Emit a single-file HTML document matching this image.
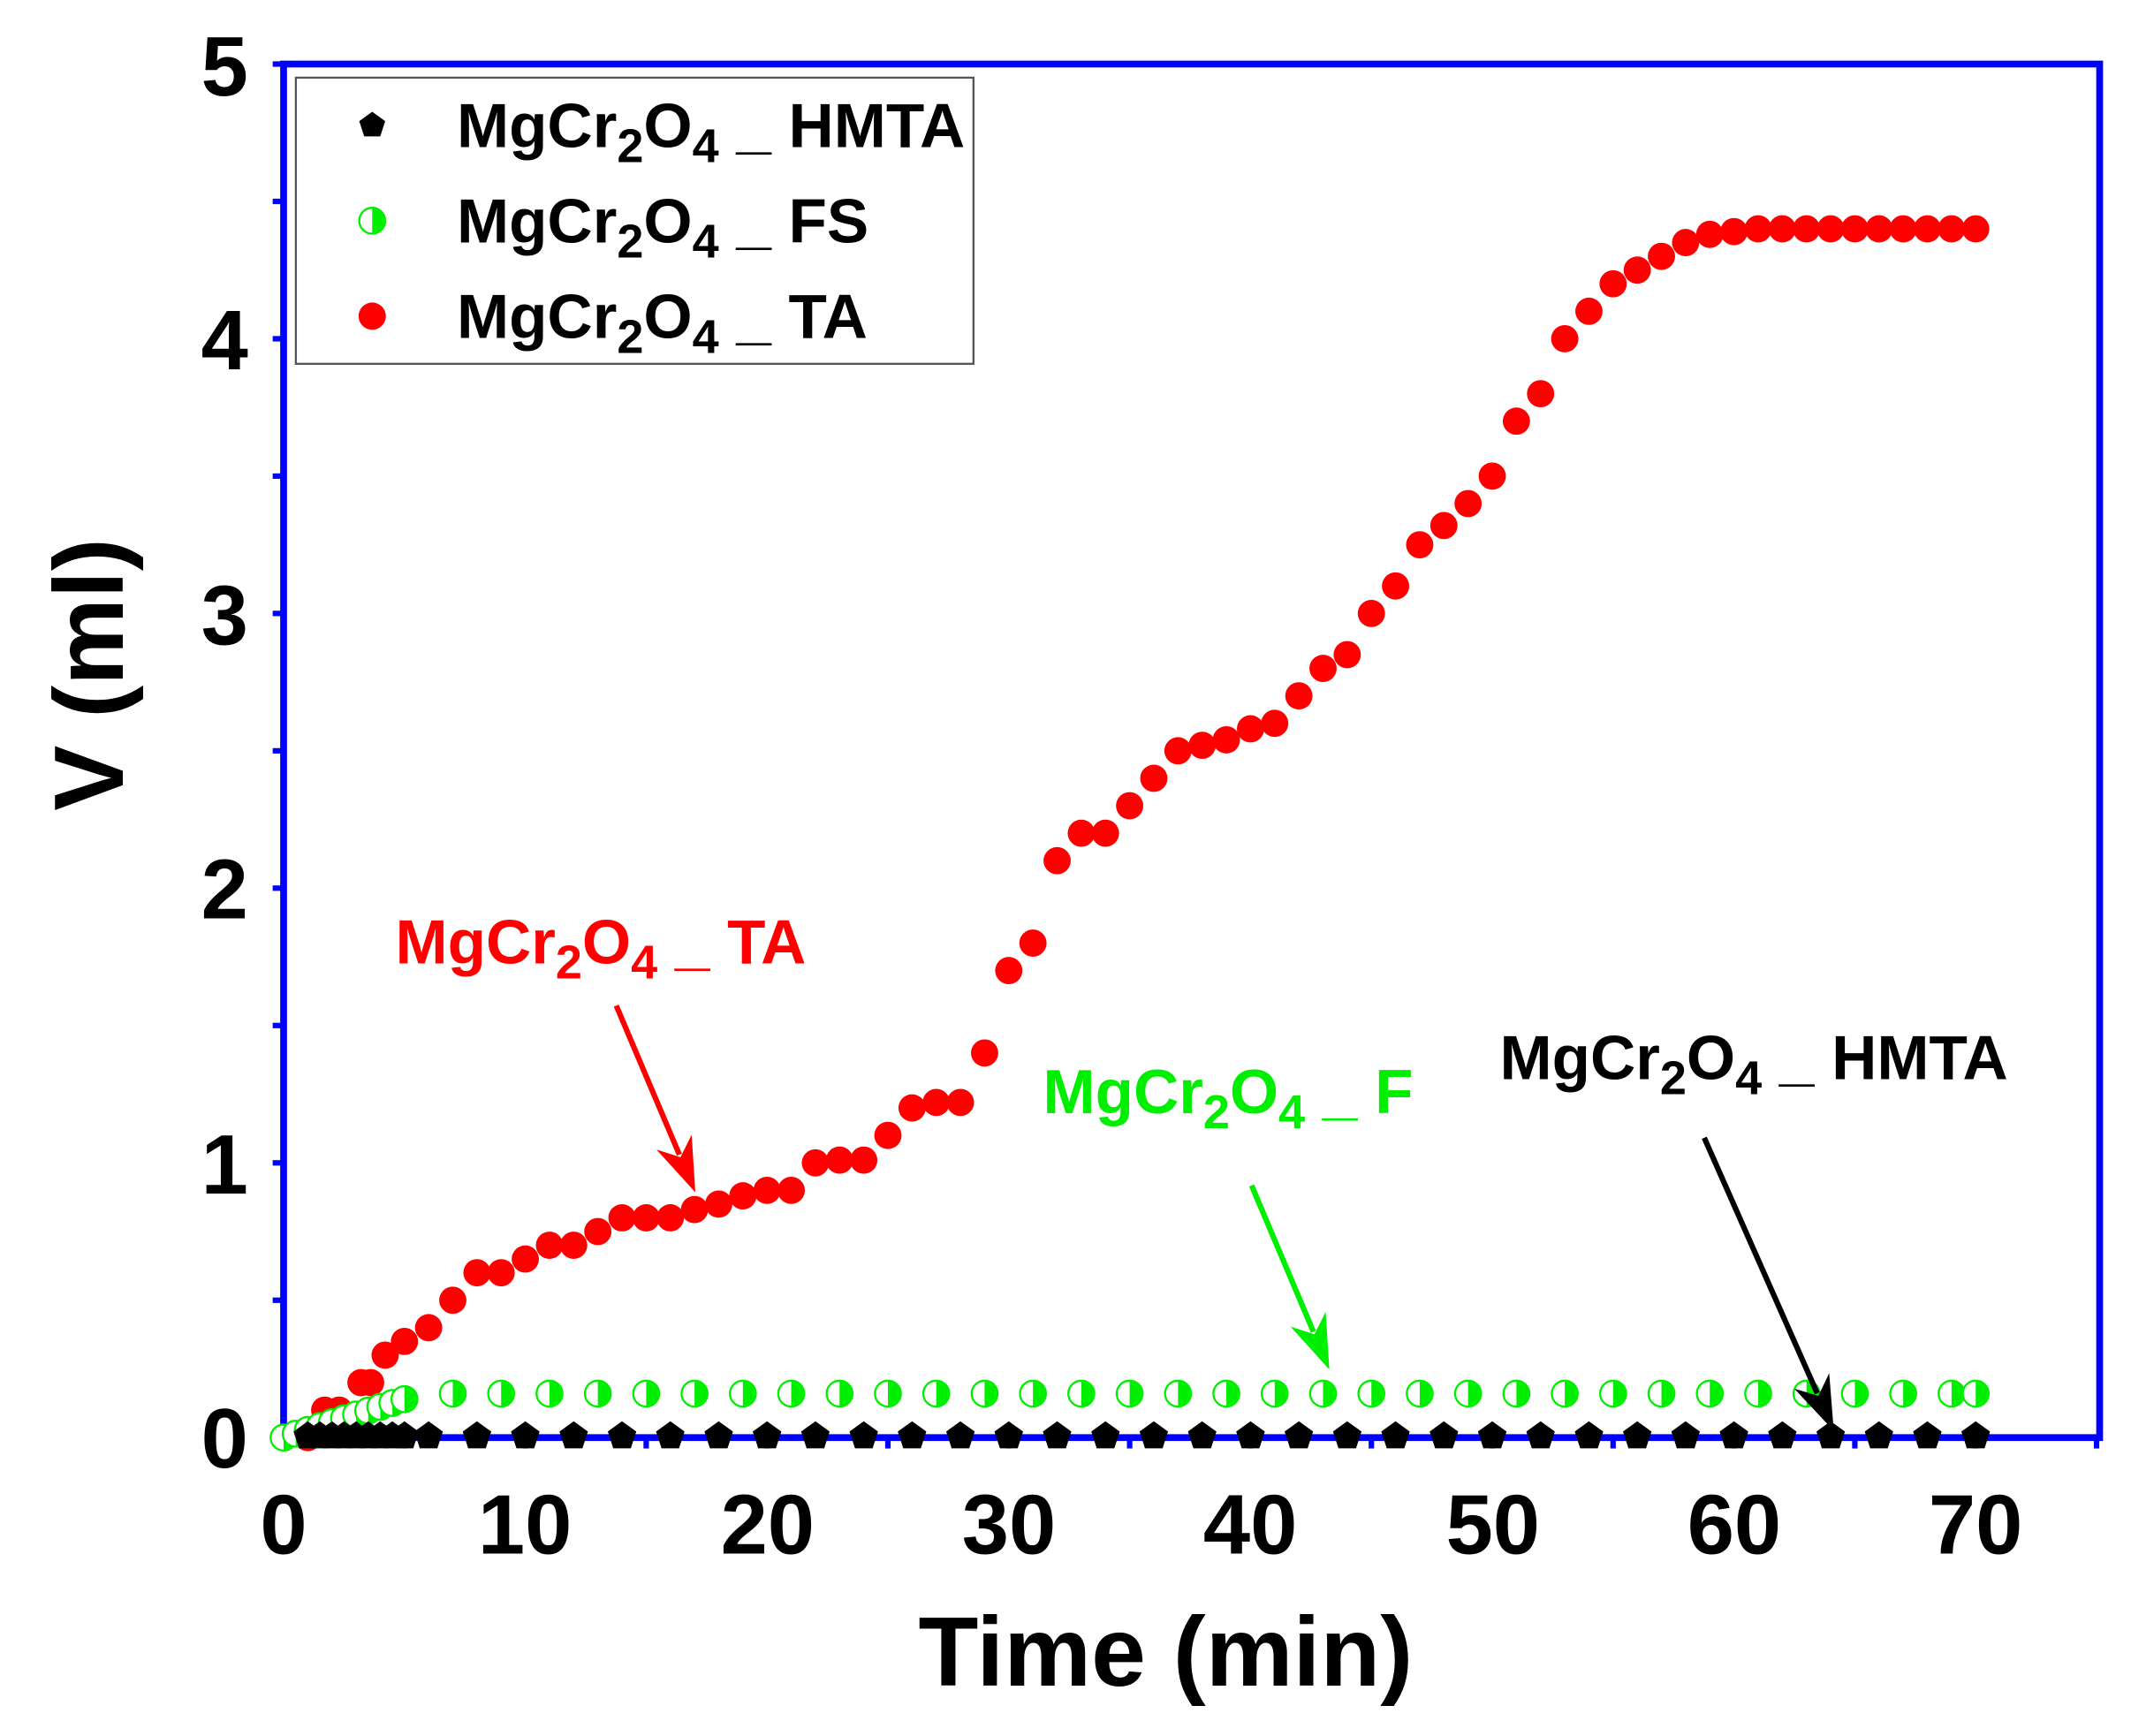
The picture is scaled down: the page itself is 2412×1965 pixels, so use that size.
<!DOCTYPE html>
<html><head><meta charset="utf-8"><style>
html,body{margin:0;padding:0;background:#fff;}
svg{display:block;}
text{font-family:"Liberation Sans",Arial,sans-serif;font-weight:bold;}
</style></head><body>
<svg id="s" width="2412" height="1965" viewBox="0 0 1563 1274" preserveAspectRatio="none" xmlns="http://www.w3.org/2000/svg">
<rect x="208" y="47" width="1332" height="1008" fill="none" stroke="#0000ff" stroke-width="5"/>
<g id="ticks" stroke="#0000ff" stroke-width="4"></g>
<g font-size="62" fill="#000" text-anchor="end">
<text x="182" y="1077">0</text>
<text x="182" y="876">1</text>
<text x="182" y="674">2</text>
<text x="182" y="473">3</text>
<text x="182" y="271">4</text>
<text x="182" y="70">5</text>
</g>
<g font-size="62" fill="#000" text-anchor="middle">
<text x="208" y="1140">0</text><text x="385" y="1140">10</text><text x="563" y="1140">20</text><text x="740" y="1140">30</text>
<text x="917" y="1140">40</text><text x="1095" y="1140">50</text><text x="1272" y="1140">60</text><text x="1449" y="1140">70</text>
</g>
<text x="855" y="1237" font-size="72" text-anchor="middle">Time (min)</text>
<text transform="translate(90,495) rotate(-90)" font-size="72" text-anchor="middle">V (ml)</text>
<g id="data"></g>
<rect x="217" y="57" width="497" height="210" fill="#fff" stroke="#555" stroke-width="1.5"/>
<g font-size="46">
<text x="335" y="108">MgCr<tspan font-size="35" dy="11">2</tspan><tspan dy="-11">O</tspan><tspan font-size="35" dy="11">4</tspan><tspan dy="-11"> _ HMTA</tspan></text>
<text x="335" y="178">MgCr<tspan font-size="35" dy="11">2</tspan><tspan dy="-11">O</tspan><tspan font-size="35" dy="11">4</tspan><tspan dy="-11"> _ FS</tspan></text>
<text x="335" y="248">MgCr<tspan font-size="35" dy="11">2</tspan><tspan dy="-11">O</tspan><tspan font-size="35" dy="11">4</tspan><tspan dy="-11"> _ TA</tspan></text>
</g>
<g id="leg"></g>
<text x="290" y="707" font-size="46" fill="#ff0000">MgCr<tspan font-size="35" dy="11">2</tspan><tspan dy="-11">O</tspan><tspan font-size="35" dy="11">4</tspan><tspan dy="-11"> _ TA</tspan></text>
<text x="765" y="817" font-size="46" fill="#00ee00">MgCr<tspan font-size="35" dy="11">2</tspan><tspan dy="-11">O</tspan><tspan font-size="35" dy="11">4</tspan><tspan dy="-11"> _ F</tspan></text>
<text x="1100" y="792" font-size="46" fill="#000">MgCr<tspan font-size="35" dy="11">2</tspan><tspan dy="-11">O</tspan><tspan font-size="35" dy="11">4</tspan><tspan dy="-11"> _ HMTA</tspan></text>
<g id="arrows"></g>
</svg>
<script>
var NS="http://www.w3.org/2000/svg";
function el(p,n,a){var e=document.createElementNS(NS,n);for(var k in a)e.setAttribute(k,a[k]);p.appendChild(e);return e;}
function X(t){return 208+t*17.73;}
function Y(v){return 1055-v*201.6;}
var tk=document.getElementById('ticks');
for(var i=0;i<=10;i++){var y=1055-i*100.8;el(tk,'line',{x1:200,x2:208,y1:y,y2:y});}
for(var i=0;i<=15;i++){var x=208+i*88.65;el(tk,'line',{x1:x,x2:x,y1:1055,y2:1063});}
var d=document.getElementById('data');
function pent(g,cx,cy,r,fill){var p=[];for(var k=0;k<5;k++){var a=-Math.PI/2+k*2*Math.PI/5;p.push((cx+r*Math.cos(a)).toFixed(1)+','+(cy+r*Math.sin(a)).toFixed(1));}el(g,'polygon',{points:p.join(' '),fill:fill});}
function half(g,cx,cy,r){el(g,'circle',{cx:cx,cy:cy,r:r,fill:'#fff',stroke:'#00ee00','stroke-width':1.5});el(g,'path',{d:'M'+cx+','+(cy-r)+' A'+r+','+r+' 0 0 1 '+cx+','+(cy+r)+' Z',fill:'#00ee00'});}
var ta=[[1,0],[1.7,0.1],[2.3,0.1],[3.2,0.2],[3.6,0.2],[4.2,0.3],[5,0.35],[6,0.4],[7,0.5],[8,0.6],[9,0.6],[10,0.65],[11,0.7],[12,0.7],[13,0.75],[14,0.8],[15,0.8],[16,0.8],[17,0.83],[18,0.85],[19,0.88],[20,0.9],[21,0.9],[22,1.0],[23,1.01],[24,1.01],[25,1.1],[26,1.2],[27,1.22],[28,1.22],[29,1.4],[30,1.7],[31,1.8],[32,2.1],[33,2.2],[34,2.2],[35,2.3],[36,2.4],[37,2.5],[38,2.52],[39,2.54],[40,2.58],[41,2.6],[42,2.7],[43,2.8],[44,2.85],[45,3.0],[46,3.1],[47,3.25],[48,3.32],[49,3.4],[50,3.5],[51,3.7],[52,3.8],[53,4.0],[54,4.1],[55,4.2],[56,4.25],[57,4.3],[58,4.35],[59,4.38],[60,4.39]];
for(var t=61;t<=70;t++)ta.push([t,4.4]);
ta.forEach(function(p){el(d,'circle',{cx:X(p[0]),cy:Y(p[1]),r:10,fill:'#ff0000'});});
var fs=[];for(var k=0;k<=10;k++){fs.push([k*0.5,Math.min(0.14,k*0.014)]);}
for(var t=7;t<=69;t+=2)fs.push([t,0.16]);fs.push([70,0.16]);
fs.forEach(function(p){half(d,X(p[0]),Y(p[1]),9.5);});
var hm=[];for(var t=1;t<=5;t+=0.5)hm.push(t);for(var t=6;t<=70;t+=2)hm.push(t);
hm.forEach(function(t){pent(d,X(t),Y(0)-1,11,'#000');});
var lg=document.getElementById('leg');
pent(lg,273,92,10,'#000');half(lg,273,162,9.5);el(lg,'circle',{cx:273,cy:232,r:10,fill:'#ff0000'});
var ar=document.getElementById('arrows');
function arrow(x1,y1,x2,y2,c){var dx=x2-x1,dy=y2-y1,L=Math.sqrt(dx*dx+dy*dy),ux=dx/L,uy=dy/L;var hl=40,hw=14;var bx=x2-ux*hl,by=y2-uy*hl;
el(ar,'line',{x1:x1,y1:y1,x2:bx+ux*10,y2:by+uy*10,stroke:c,'stroke-width':4});
el(ar,'polygon',{points:x2+','+y2+' '+(bx-uy*hw)+','+(by+ux*hw)+' '+(x2-ux*hl*0.7)+','+(y2-uy*hl*0.7)+' '+(bx+uy*hw)+','+(by-ux*hw),fill:c});}
arrow(452,738,510,875,'#ff0000');
arrow(918,870,975,1005,'#00ee00');
arrow(1250,835,1345,1050,'#000');
</script>
</body></html>
